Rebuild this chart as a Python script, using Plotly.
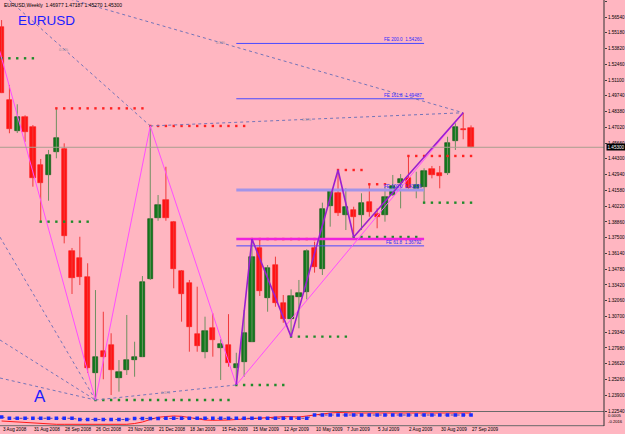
import plotly.graph_objects as go
import pandas as pd

# ---------------- data ----------------
dates = [
    "2008-08-03", "2008-08-10", "2008-08-17", "2008-08-24", "2008-08-31",
    "2008-09-07", "2008-09-14", "2008-09-21", "2008-09-28",
    "2008-10-05", "2008-10-12", "2008-10-19", "2008-10-26",
    "2008-11-02", "2008-11-09", "2008-11-16", "2008-11-23", "2008-11-30",
    "2008-12-07", "2008-12-14", "2008-12-21", "2008-12-28",
    "2009-01-04", "2009-01-11", "2009-01-18", "2009-01-25",
    "2009-02-01", "2009-02-08", "2009-02-15", "2009-02-22",
    "2009-03-01", "2009-03-08", "2009-03-15", "2009-03-22", "2009-03-29",
    "2009-04-05", "2009-04-12", "2009-04-19", "2009-04-26",
    "2009-05-03", "2009-05-10", "2009-05-17", "2009-05-24", "2009-05-31",
    "2009-06-07", "2009-06-14", "2009-06-21", "2009-06-28",
    "2009-07-05", "2009-07-12", "2009-07-19", "2009-07-26",
    "2009-08-02", "2009-08-09", "2009-08-16", "2009-08-23", "2009-08-30",
    "2009-09-06", "2009-09-13", "2009-09-20", "2009-09-27",
]
opens = [1.5571, 1.4938, 1.4673, 1.4789, 1.4702, 1.4377, 1.4288, 1.4489, 1.4515, 1.3637,
         1.3572, 1.3408, 1.2579, 1.2774, 1.2824, 1.2541, 1.2608, 1.2694, 1.2723, 1.3393,
         1.3917, 1.4075, 1.3885, 1.3462, 1.3356, 1.2919, 1.2761, 1.2973, 1.2795, 1.2824,
         1.2623, 1.2680, 1.2852, 1.3658, 1.3227, 1.3514, 1.3184, 1.3045, 1.3240, 1.3284,
         1.3658, 1.3477, 1.4026, 1.4133, 1.3945, 1.3989, 1.3945, 1.4058, 1.3954, 1.3945,
         1.4118, 1.4224, 1.4268, 1.4167, 1.4185, 1.4340, 1.4305, 1.4305, 1.4587, 1.4688,
         1.46977]
highs = [1.5628, 1.5068, 1.4901, 1.4806, 1.4722, 1.4429, 1.4507, 1.4866, 1.4564, 1.3661,
         1.3758, 1.3529, 1.3298, 1.3111, 1.2925, 1.2694, 1.3083, 1.2852, 1.3419, 1.4714,
         1.4118, 1.4362, 1.3894, 1.3471, 1.3385, 1.3327, 1.3068, 1.3097, 1.2873, 1.3090,
         1.2757, 1.3126, 1.3738, 1.3730, 1.3514, 1.3586, 1.3255, 1.3304, 1.3385, 1.3650,
         1.3715, 1.4052, 1.4161, 1.4334, 1.4176, 1.4017, 1.4133, 1.4211, 1.4003, 1.4190,
         1.4291, 1.4299, 1.4455, 1.4319, 1.4349, 1.4369, 1.4369, 1.4621, 1.4737, 1.4828,
         1.47187]
lows = [1.4998, 1.4651, 1.4653, 1.4578, 1.4190, 1.3888, 1.4069, 1.4435, 1.3701, 1.3264,
        1.3341, 1.2582, 1.2349, 1.2528, 1.2392, 1.2421, 1.2565, 1.2550, 1.2720, 1.3385,
        1.3896, 1.3896, 1.3313, 1.3025, 1.2766, 1.2766, 1.2709, 1.2723, 1.2522, 1.2636,
        1.2479, 1.2550, 1.2850, 1.3247, 1.3111, 1.3154, 1.3016, 1.2896, 1.2968, 1.3218,
        1.3448, 1.3428, 1.3845, 1.3937, 1.3816, 1.3756, 1.3816, 1.3931, 1.3831, 1.3888,
        1.4110, 1.4003, 1.4161, 1.4090, 1.4052, 1.4262, 1.4176, 1.4291, 1.4507, 1.4599,
        1.45270]
closes = [1.5001, 1.4685, 1.4789, 1.4662, 1.4262, 1.4224, 1.4461, 1.4613, 1.3767, 1.3399,
          1.3408, 1.2623, 1.2723, 1.2717, 1.2608, 1.2593, 1.2694, 1.2723, 1.3370, 1.3911,
          1.4029, 1.3917, 1.3477, 1.3264, 1.2976, 1.2818, 1.2945, 1.2867, 1.2830, 1.2671,
          1.2657, 1.2930, 1.3586, 1.3292, 1.3486, 1.3189, 1.3045, 1.3246, 1.3275, 1.3637,
          1.3494, 1.3995, 1.4155, 1.3965, 1.4012, 1.3931, 1.4052, 1.3974, 1.3931, 1.4098,
          1.4196, 1.4254, 1.4176, 1.4202, 1.4323, 1.4291, 1.4285, 1.4564, 1.4702, 1.4679,
          1.45300]

# all-time-high anchor (off chart, left)
h0_date, h0_price = "2008-07-13", 1.6038

# price axis ticks
price_ticks = [1.5790, 1.5654, 1.5518, 1.5382, 1.5246, 1.5110, 1.4974, 1.4838, 1.4702,
               1.4566, 1.4430, 1.4294, 1.4158, 1.4022, 1.3886, 1.3750, 1.3614, 1.3478,
               1.3342, 1.3206, 1.3070, 1.2934, 1.2798, 1.2662, 1.2526, 1.2390, 1.2254]
date_label_idx = [0, 4, 8, 12, 16, 20, 24, 28, 32, 36, 40, 44, 48, 52, 56, 60]
date_labels = ["3 Aug 2008", "31 Aug 2008", "28 Sep 2008", "26 Oct 2008", "23 Nov 2008",
               "21 Dec 2008", "18 Jan 2009", "15 Feb 2009", "15 Mar 2009", "12 Apr 2009",
               "10 May 2009", "7 Jun 2009", "5 Jul 2009", "2 Aug 2009", "30 Aug 2009",
               "27 Sep 2009"]

# Fibonacci expansion levels
fe_levels = [200.0, 161.8, 100.0, 61.8]
fe_prices = [1.54260, 1.49487, 1.41620, 1.36792]
fe_start, fe_end = 30, 54
res_line_price = 1.3738

# fractal level dots: (start idx, end idx, price)
red_levels = [(7, 18, 1.4866), (19, 31, 1.4714), (32, 40, 1.3738), (43, 46, 1.4334),
              (47, 49, 1.4211), (52, 60, 1.4455)]
green_levels = [(0, 4, 1.5298), (5, 11, 1.3888), (12, 29, 1.2349), (30, 36, 1.2479),
                (37, 44, 1.2896), (45, 53, 1.3756), (54, 60, 1.4052)]

# fan lines toward point A: prices at chart left edge
fan_left_prices = [1.3755, 1.2867, 1.2539]

# indicator panel
ind_line = [4.7, 4.2, 3.4, 2.7, 2.2, 1.7, 1.4, 1.4, 1.4, 1.4,
            1.4, 1.4, 1.4, 1.4, 1.4, 1.4, 1.4, 2.2, 3.7, 6.2,
            8.4, 9.2, 9.7, 9.4, 8.2, 6.7, 5.7, 5.4, 5.4, 5.7,
            6.2, 6.7, 7.4, 7.7, 8.2, 8.7, 9.0, 9.0, 8.7, 9.7,
            10.9, 11.9, 12.7, 13.2, 12.7, 12.7, 12.7, 12.7, 12.7, 12.7,
            12.7, 12.7, 12.7, 12.7, 12.7, 12.7, 12.7, 12.7, 12.7, 12.7,
            12.7]
ind_dots = [8.7, 7.4, 7.4, 7.4, 7.4, 7.4, 7.4, 7.4, 7.4, 7.4,
            6.2, 6.2, 6.2, 6.2, 6.2, 6.2, 6.2, 7.2, 7.2, 7.2,
            7.2, 7.4, 7.4, 7.4, 7.4, 7.4, 7.4, 7.4, 7.4, 7.4,
            7.4, 7.4, 7.4, 7.4, 7.4, 7.4, 7.4, 7.4, 7.4, 7.4,
            10.7, 10.7, 10.7, 10.7, 10.7, 10.7, 10.7, 10.7, 10.7, 10.7,
            10.7, 10.7, 10.7, 10.7, 10.7, 10.7, 10.7, 10.7, 10.7, 10.7,
            10.7]
ind_labels = ["0.0005", "-0.2016"]

title_text = "EURUSD,Weekly  1.46977 1.47187 1.45270 1.45300"

# ---------------- geometry ----------------
W, H = 625, 434
ML, MR, MT, MB = 0, 19, 0, 8
PW, PH = W - ML - MR, H - MT - MB          # 606 x 426
BG = "#FFB6C1"
FONT = "Liberation Sans, Arial, sans-serif"

d = pd.to_datetime(dates)
n = len(d)
x0 = d[0] - pd.Timedelta(days=1.43)
x1 = x0 + pd.Timedelta(days=540.4)
ymin, ymax = 1.22499, 1.5801
main_dom = [(PH - 411.5) / PH, 1.0]
ind_dom = [(PH - 425.7) / PH, (PH - 411.5) / PH]

def py(pix):
    return (PH - pix) / PH

fig = go.Figure()

# wicks
for up, col in [(True, "#6f8f60"), (False, "#f03a3a")]:
    xs, ys = [], []
    for i in range(n):
        if (closes[i] >= opens[i]) == up:
            xs += [d[i], d[i], None]
            ys += [lows[i], highs[i], None]
    fig.add_trace(go.Scatter(x=xs, y=ys, mode="lines", line=dict(color=col, width=1),
                             hoverinfo="skip", showlegend=False))

# bodies
bw = 4.7 * 86400000
for up, fill, edge in [(True, "#137a1e", "#0a4f10"), (False, "#ff1414", "#ff1414")]:
    idx = [i for i in range(n) if (closes[i] >= opens[i]) == up]
    fig.add_trace(go.Bar(
        x=[d[i] for i in idx],
        y=[max(abs(closes[i] - opens[i]), 0.0009) for i in idx],
        base=[min(opens[i], closes[i]) for i in idx],
        width=bw, marker=dict(color=fill, line=dict(color=edge, width=0.6)),
        showlegend=False, hoverinfo="skip"))

# fractal dots
for levels, col in [(red_levels, "#ff2222"), (green_levels, "#1f8a2a")]:
    xs, ys = [], []
    for s, e, p in levels:
        for i in range(s, e + 1):
            xs.append(d[i]); ys.append(p)
    fig.add_trace(go.Scatter(x=xs, y=ys, mode="markers",
                             marker=dict(symbol="square", size=2.4, color=col, line=dict(width=0)),
                             showlegend=False, hoverinfo="skip"))

# Fibonacci expansion lines
fe_styles = {200.0: ("#4a4aff", 1), 161.8: ("#4a4aff", 1), 100.0: ("#a394e8", 3), 61.8: ("#4a4aff", 1)}
for lvl, p in zip(fe_levels, fe_prices):
    col, w = fe_styles[lvl]
    fig.add_trace(go.Scatter(x=[d[fe_start], d[fe_end]], y=[p, p], mode="lines",
                             line=dict(color=col, width=w), showlegend=False, hoverinfo="skip"))
fig.add_trace(go.Scatter(x=[d[fe_start], d[fe_end]], y=[res_line_price, res_line_price], mode="lines",
                         line=dict(color="#ee22dd", width=2.5), showlegend=False, hoverinfo="skip"))

# dotted trend / fan lines
dot_col = "#7474b8"
h0 = pd.Timestamp(h0_date)
dotted = [
    ([h0, d[19]], [h0_price, highs[19]]),
    ([h0, d[59]], [h0_price, highs[59]]),
    ([d[19], d[59]], [highs[19], highs[59]]),
    ([d[12], d[30]], [lows[12], lows[30]]),
]
for p in fan_left_prices:
    dotted.append(([x0, d[12]], [p, lows[12]]))
for xs, ys in dotted:
    fig.add_trace(go.Scatter(x=xs, y=ys, mode="lines", line=dict(color=dot_col, width=1, dash="dot"),
                             showlegend=False, hoverinfo="skip"))

# zigzags
zz1 = [(h0, h0_price), (d[12], lows[12]), (d[19], highs[19]), (d[30], lows[30]), (d[59], highs[59])]
fig.add_trace(go.Scatter(x=[a for a, b in zz1], y=[b for a, b in zz1], mode="lines",
                         line=dict(color="#ff4dff", width=1), showlegend=False, hoverinfo="skip"))
zz2 = [(d[30], lows[30]), (d[32], highs[32]), (d[37], lows[37]), (d[43], highs[43]),
       (d[45], lows[45]), (d[59], highs[59])]
fig.add_trace(go.Scatter(x=[a for a, b in zz2], y=[b for a, b in zz2], mode="lines",
                         line=dict(color="#9a1fd0", width=1.6), showlegend=False, hoverinfo="skip"))

# indicator panel
fig.add_trace(go.Scatter(x=list(d), y=ind_line, mode="lines", line=dict(color="#ff1a1a", width=1),
                         xaxis="x", yaxis="y2", showlegend=False, hoverinfo="skip"))
fig.add_trace(go.Scatter(x=list(d), y=ind_dots, mode="lines+markers",
                         line=dict(color="#3030a0", width=0.8, dash="dot"),
                         marker=dict(symbol="square", size=3.6, color="#1a2cff"),
                         xaxis="x", yaxis="y2", showlegend=False, hoverinfo="skip"))

# ---------------- annotations ----------------
ann = []
ann.append(dict(text=title_text, xref="paper", yref="paper", x=2 / PW, y=py(4.7),
                xanchor="left", yanchor="middle", showarrow=False,
                font=dict(family=FONT, size=5, color="#000000")))
ann.append(dict(text="EURUSD", xref="paper", yref="paper", x=16.5 / PW, y=py(20.8),
                xanchor="left", yanchor="middle", showarrow=False,
                font=dict(family=FONT, size=13.5, color="#1c1cff")))
ann.append(dict(text="A", xref="paper", yref="paper", x=40.3 / PW, y=py(396.5),
                xanchor="center", yanchor="middle", showarrow=False,
                font=dict(family=FONT, size=17, color="#1c1cff")))
for i, t in zip(date_label_idx, date_labels):
    ann.append(dict(text=t, x=d[i], xref="x", yref="paper", y=py(429.3),
                    xanchor="left", yanchor="middle", showarrow=False, xshift=-1,
                    font=dict(family=FONT, size=4.6, color="#000000")))
for lvl, p in zip(fe_levels, fe_prices):
    ann.append(dict(text=f"FE {lvl:.1f}  {p:.5f}", x=d[fe_end], y=p, xref="x", yref="y",
                    xanchor="right", yanchor="bottom", showarrow=False, yshift=-1,
                    font=dict(family=FONT, size=4.6, color="#2a2aff")))
# small labels on dotted lines
def on_line(xa, ya, xb, yb, t):
    fa = (t - xa) / (xb - xa)
    return ya + fa * (yb - ya)
lbls = [(d[8], on_line(h0.value, h0_price, d[19].value, highs[19], d[8].value)),
        (d[28], on_line(h0.value, h0_price, d[59].value, highs[59], d[28].value)),
        (d[39], on_line(d[19].value, highs[19], d[59].value, highs[59], d[39].value)),
        (d[21], on_line(d[12].value, lows[12], d[30].value, lows[30], d[21].value))]
for xx, yy in lbls:
    ann.append(dict(text="0.5%", x=xx, y=yy, xref="x", yref="y", showarrow=False,
                    font=dict(family=FONT, size=4, color="#8a8a9a")))
# current price box
ann.append(dict(text=f"{closes[-1]:.5f}", xref="paper", yref="y", x=608 / PW, y=closes[-1],
                xanchor="left", yanchor="middle", showarrow=False, bgcolor="#000000",
                borderpad=0.5, font=dict(family=FONT, size=4.6, color="#ffffff")))
for t, pix in zip(ind_labels, [415.0, 421.5]):
    ann.append(dict(text=t, xref="paper", yref="paper", x=608.5 / PW, y=py(pix),
                    xanchor="left", yanchor="middle", showarrow=False,
                    font=dict(family=FONT, size=4.2, color="#000000")))

shapes = [
    dict(type="line", xref="paper", yref="y", x0=0, x1=1, y0=closes[-1], y1=closes[-1],
         line=dict(color="#aa9e8e", width=1)),
    dict(type="line", xref="paper", yref="paper", x0=0, x1=1, y0=py(411.5), y1=py(411.5),
         line=dict(color="#6a6a6a", width=1)),
    dict(type="line", xref="paper", yref="paper", x0=0, x1=1, y0=py(425.7), y1=py(425.7),
         line=dict(color="#6a6a6a", width=1)),
    dict(type="line", xref="paper", yref="paper", x0=1, x1=1, y0=0, y1=1,
         line=dict(color="#303030", width=1)),
]

fig.update_layout(
    width=W, height=H, autosize=False,
    margin=dict(l=ML, r=MR, t=MT, b=MB, pad=0),
    paper_bgcolor=BG, plot_bgcolor=BG,
    barmode="overlay", bargap=0,
    showlegend=False,
    annotations=ann, shapes=shapes,
    xaxis=dict(range=[x0, x1], visible=False, showgrid=False, zeroline=False, fixedrange=True),
    yaxis=dict(domain=main_dom, range=[ymin, ymax], side="right", showgrid=False, zeroline=False,
               tickvals=price_ticks, ticktext=[f"{v:.5f}" for v in price_ticks],
               ticks="outside", ticklen=2, tickcolor="#404040", showline=False,
               tickfont=dict(family=FONT, size=4.6, color="#000000"), fixedrange=True),
    yaxis2=dict(domain=ind_dom, range=[0, 14.2], visible=False, anchor="x", fixedrange=True),
)

fig.write_html("out.html")
